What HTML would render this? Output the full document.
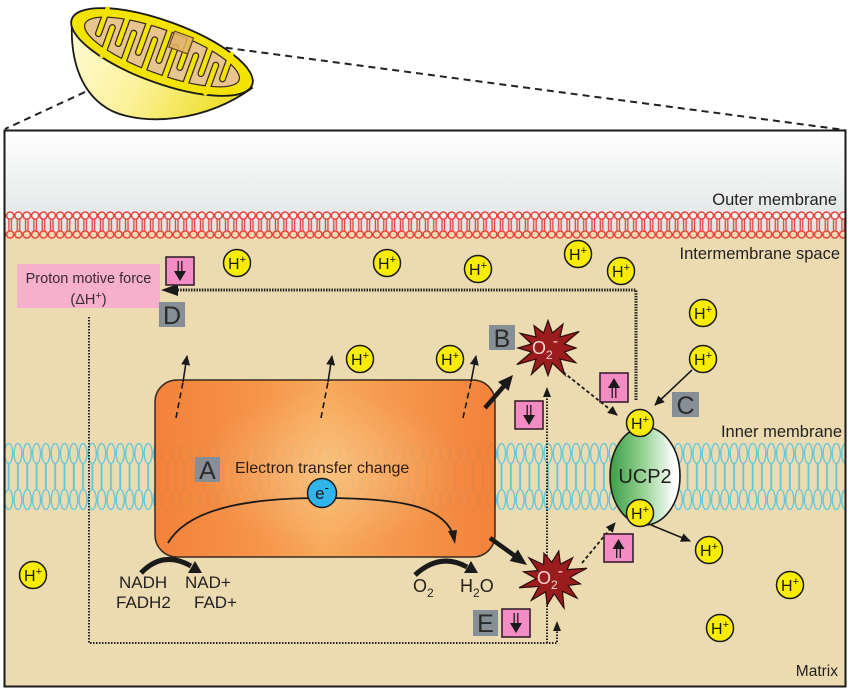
<!DOCTYPE html>
<html><head><meta charset="utf-8">
<style>
html,body{margin:0;padding:0;background:#fff;}
svg{display:block;}
text{font-family:"Liberation Sans",Arial,sans-serif;}
</style></head>
<body>
<svg width="850" height="691" viewBox="0 0 850 691" xmlns="http://www.w3.org/2000/svg">
<defs>
  <linearGradient id="topg" x1="0" y1="0" x2="0" y2="1">
    <stop offset="0" stop-color="#ffffff"/>
    <stop offset="1" stop-color="#e0e4e4"/>
  </linearGradient>
  <linearGradient id="org" x1="0" y1="0" x2="1" y2="0">
    <stop offset="0" stop-color="#f47a30"/>
    <stop offset="0.3" stop-color="#f68e40"/>
    <stop offset="0.5" stop-color="#f8a655"/>
    <stop offset="0.68" stop-color="#f69446"/>
    <stop offset="1" stop-color="#f47a30"/>
  </linearGradient>
  <radialGradient id="orr" cx="0.5" cy="0.5" r="0.5">
    <stop offset="0" stop-color="#fff2c0" stop-opacity="0.35"/>
    <stop offset="1" stop-color="#fff2c0" stop-opacity="0"/>
  </radialGradient>
  <linearGradient id="ucp" x1="0" y1="0" x2="1" y2="0">
    <stop offset="0" stop-color="#3c9c46"/>
    <stop offset="0.45" stop-color="#90cf8e"/>
    <stop offset="0.92" stop-color="#ffffff"/>
  </linearGradient>
  <linearGradient id="bowl" x1="0" y1="0" x2="1" y2="0.3">
    <stop offset="0" stop-color="#fefbd8"/>
    <stop offset="0.5" stop-color="#fcf29c"/>
    <stop offset="1" stop-color="#efdf30"/>
  </linearGradient>
  <pattern id="omem" x="6" y="211" width="8.33" height="28" patternUnits="userSpaceOnUse">
    <line x1="2.9" y1="7" x2="2.9" y2="21" stroke="#e8403a" stroke-width="1.3"/>
    <line x1="5.4" y1="7" x2="5.4" y2="21" stroke="#e8403a" stroke-width="1.3"/>
    <circle cx="4.16" cy="4.6" r="3.6" fill="#f6f2f0" stroke="#e8403a" stroke-width="1.4"/>
    <circle cx="4.16" cy="23.5" r="3.6" fill="#f2dab0" stroke="#e8403a" stroke-width="1.4"/>
  </pattern>
  <pattern id="imem" x="4" y="443" width="9.3" height="68" patternUnits="userSpaceOnUse">
    <ellipse cx="4.65" cy="10.5" rx="4" ry="10" fill="none" stroke="#5cc6de" stroke-width="1.3"/>
    <line x1="4.65" y1="20.5" x2="4.65" y2="46.5" stroke="#5cc6de" stroke-width="1.8"/>
    <ellipse cx="4.65" cy="56.5" rx="4" ry="10" fill="none" stroke="#5cc6de" stroke-width="1.3"/>
  </pattern>
  <clipPath id="mclip"><ellipse cx="0" cy="0" rx="82" ry="22"/></clipPath>
  <marker id="ah" markerWidth="12" markerHeight="12" refX="9" refY="5" orient="auto" markerUnits="userSpaceOnUse">
    <path d="M0,0.5 L10,5 L0,9.5 Z" fill="#1a1a1a"/>
  </marker>
</defs>

<!-- dashed zoom lines -->
<line x1="190" y1="43" x2="845" y2="130" stroke="#222" stroke-width="2" stroke-dasharray="7 5"/>
<line x1="85" y1="92" x2="5" y2="129" stroke="#222" stroke-width="2" stroke-dasharray="7 5"/>

<!-- mitochondrion -->
<path d="M72,22 C70,62 82,96 112,111 C145,126 205,122 252,88 L200,40 Z" fill="url(#bowl)" stroke="#1a1a1a" stroke-width="1.8"/>
<g transform="translate(162,52) rotate(20)">
  <ellipse cx="0" cy="0" rx="96" ry="31" fill="#f3e400" stroke="#1a1a1a" stroke-width="1.8"/>
  <ellipse cx="0" cy="0" rx="82" ry="22" fill="#e8c48f" stroke="#3a2a1a" stroke-width="1.2"/>
  <g clip-path="url(#mclip)" stroke="#3a2a1a" stroke-width="7" stroke-linecap="round">
    <line x1="-66" y1="-30" x2="-66" y2="4.5"/>
    <line x1="-44" y1="-30" x2="-44" y2="7"/>
    <line x1="-22" y1="-30" x2="-22" y2="8.5"/>
    <line x1="0" y1="-30" x2="0" y2="9"/>
    <line x1="22" y1="-30" x2="22" y2="8.5"/>
    <line x1="44" y1="-30" x2="44" y2="7"/>
    <line x1="66" y1="-30" x2="66" y2="4.5"/>
    <line x1="-55" y1="30" x2="-55" y2="-6"/>
    <line x1="-33" y1="30" x2="-33" y2="-8"/>
    <line x1="-11" y1="30" x2="-11" y2="-9"/>
    <line x1="11" y1="30" x2="11" y2="-9"/>
    <line x1="33" y1="30" x2="33" y2="-8"/>
    <line x1="55" y1="30" x2="55" y2="-6"/>
  </g>
  <g stroke="#f3e400" stroke-width="4.5" stroke-linecap="round">
    <line x1="-66" y1="-22" x2="-66" y2="4.5"/>
    <line x1="-44" y1="-24" x2="-44" y2="7"/>
    <line x1="-22" y1="-26" x2="-22" y2="8.5"/>
    <line x1="0" y1="-26" x2="0" y2="9"/>
    <line x1="22" y1="-26" x2="22" y2="8.5"/>
    <line x1="44" y1="-24" x2="44" y2="7"/>
    <line x1="66" y1="-22" x2="66" y2="4.5"/>
    <line x1="-55" y1="24" x2="-55" y2="-6"/>
    <line x1="-33" y1="26" x2="-33" y2="-8"/>
    <line x1="-11" y1="26" x2="-11" y2="-9"/>
    <line x1="11" y1="26" x2="11" y2="-9"/>
    <line x1="33" y1="26" x2="33" y2="-8"/>
    <line x1="55" y1="24" x2="55" y2="-6"/>
  </g>
</g>
<rect x="171" y="34" width="20" height="17" transform="rotate(20 181 43)" fill="#e3b46a" fill-opacity="0.85" stroke="#6a4a2a" stroke-width="1.2"/>

<!-- main frame backgrounds -->
<rect x="4" y="130" width="842" height="557" fill="#ecdbb0"/>
<rect x="4" y="130" width="842" height="101" fill="url(#topg)"/>
<rect x="5" y="211" width="840" height="28" fill="url(#omem)"/>
<rect x="5" y="443" width="840" height="68" fill="url(#imem)"/>

<!-- labels -->
<text x="837" y="205" font-size="16.5" text-anchor="end" fill="#231f20">Outer membrane</text>
<text x="840" y="259" font-size="16.5" text-anchor="end" fill="#231f20">Intermembrane space</text>
<text x="842" y="437" font-size="16.5" text-anchor="end" fill="#231f20">Inner membrane</text>
<text x="838" y="676" font-size="15.5" text-anchor="end" fill="#231f20">Matrix</text>

<!-- orange complex -->
<rect x="155" y="380" width="340" height="177" rx="22" fill="url(#org)" fill-opacity="0.92" stroke="#3a2a20" stroke-width="1.5"/>
<rect x="200" y="390" width="260" height="160" fill="url(#orr)"/>

<!-- proton motive force -->
<rect x="17" y="264" width="143" height="44" fill="#f6b0cc"/>
<text x="88.5" y="283" font-size="14.5" text-anchor="middle" fill="#3a2a30">Proton motive force</text>
<text x="88.5" y="304" font-size="14.5" text-anchor="middle" fill="#3a2a30">(ΔH<tspan font-size="11" dy="-5">+</tspan><tspan dy="5">)</tspan></text>

<!-- dotted loops -->
<polyline points="636,400 636,290 176,290" fill="none" stroke="#222" stroke-width="3" stroke-dasharray="1.5 1.2"/>
<polygon points="161,290 178,284 178,296" fill="#1a1a1a"/>
<polyline points="89,317 89,643 557,643 557,630" fill="none" stroke="#222" stroke-width="2" stroke-dasharray="1.5 1.5"/>
<polygon points="557,621 553,631 561,631" fill="#1a1a1a"/>
<line x1="547" y1="643" x2="547" y2="396" stroke="#222" stroke-width="2" stroke-dasharray="1.5 1.5"/>
<polygon points="547,387 543,397 551,397" fill="#1a1a1a"/>

<!-- up arrows from complex -->
<g stroke="#1a1a1a" stroke-width="1.6" fill="none">
  <line x1="176" y1="418" x2="183" y2="382" stroke-dasharray="6 4"/>
  <line x1="183" y1="382" x2="187" y2="356" marker-end="url(#ah)"/>
  <line x1="321" y1="418" x2="328" y2="382" stroke-dasharray="6 4"/>
  <line x1="328" y1="382" x2="332" y2="356" marker-end="url(#ah)"/>
  <line x1="463" y1="418" x2="471" y2="382" stroke-dasharray="6 4"/>
  <line x1="471" y1="382" x2="476" y2="356" marker-end="url(#ah)"/>
</g>

<!-- electron arc -->
<path d="M168,543 C190,505 260,498 322,498 C400,498 440,506 452,532" fill="none" stroke="#1a1a1a" stroke-width="1.8"/>
<polygon points="455,544 448,531 457,530" fill="#1a1a1a"/>
<circle cx="322" cy="493" r="14.5" fill="#2fb4ec" stroke="#1a1a1a" stroke-width="1.5"/>
<text x="322" y="499" font-size="17" text-anchor="middle" fill="#1a1a1a">e<tspan font-size="13" dy="-7">-</tspan></text>

<text x="235" y="473" font-size="16" fill="#2e1c10">Electron transfer change</text>

<!-- NADH / O2 -->
<path d="M141,573 Q163,550 191,566" fill="none" stroke="#1a1a1a" stroke-width="5"/>
<polygon points="202,573 188,573 195,561" fill="#1a1a1a"/>
<text x="119" y="588" font-size="17" fill="#231f20">NADH</text>
<text x="185" y="588" font-size="17" fill="#231f20">NAD+</text>
<text x="116" y="608" font-size="17" fill="#231f20">FADH2</text>
<text x="194" y="608" font-size="17" fill="#231f20">FAD+</text>
<path d="M415,575 Q440,552 467,567" fill="none" stroke="#1a1a1a" stroke-width="5"/>
<polygon points="478,573 464,573 471,561" fill="#1a1a1a"/>
<text x="413" y="592" font-size="18" fill="#231f20">O<tspan font-size="12" dy="5">2</tspan></text>
<text x="460" y="592" font-size="18" fill="#231f20">H<tspan font-size="12" dy="5">2</tspan><tspan dy="-5">O</tspan></text>

<!-- bold arrows -->
<line x1="485" y1="408" x2="504" y2="386" stroke="#1a1a1a" stroke-width="4.5"/>
<polygon points="513,375 508.6,390.9 498,381.9" fill="#1a1a1a"/>
<line x1="490" y1="538" x2="515" y2="556" stroke="#1a1a1a" stroke-width="4.5"/>
<polygon points="527,565 509.7,561 517.9,549.5" fill="#1a1a1a"/>

<!-- stars -->
<polygon transform="translate(548,348)" points="0,-27.6 4.4,-15.1 15,-23.9 12,-11.1 31.2,-16.6 16.4,-4.1 28,0 16.4,4.1 27.7,14.7 12,11.1 17,27.1 4.4,15.1 0,27.6 -4.4,15.1 -16.5,26.3 -12,11.1 -31.2,16.6 -16.4,4.1 -30,0 -16.4,-4.1 -27.7,-14.7 -12,-11.1 -14,-22.3 -4.4,-15.1" fill="#9a1c1c" stroke="#2a0a0a" stroke-width="1.2"/>
<text x="545" y="354" font-size="18" text-anchor="middle" fill="#f5d3d3">O<tspan font-size="12" dy="5">2</tspan><tspan font-size="16" dy="-13">-</tspan></text>
<polygon transform="translate(553,578) rotate(12)" points="0,-27.6 4.4,-15.1 15,-23.9 12,-11.1 31.2,-16.6 16.4,-4.1 28,0 16.4,4.1 27.7,14.7 12,11.1 17,27.1 4.4,15.1 0,27.6 -4.4,15.1 -16.5,26.3 -12,11.1 -31.2,16.6 -16.4,4.1 -30,0 -16.4,-4.1 -27.7,-14.7 -12,-11.1 -14,-22.3 -4.4,-15.1" fill="#9a1c1c" stroke="#2a0a0a" stroke-width="1.2"/>
<text x="550" y="584" font-size="18" text-anchor="middle" fill="#f5d3d3">O<tspan font-size="12" dy="5">2</tspan><tspan font-size="16" dy="-13">-</tspan></text>

<!-- dashed arrows to UCP2 -->
<line x1="563" y1="372" x2="617" y2="415" stroke="#1a1a1a" stroke-width="1.8" stroke-dasharray="3.5 2.5" marker-end="url(#ah)"/>
<line x1="582" y1="563" x2="615" y2="523" stroke="#1a1a1a" stroke-width="1.8" stroke-dasharray="3.5 2.5" marker-end="url(#ah)"/>

<!-- UCP2 -->
<ellipse cx="645" cy="476" rx="35" ry="49" fill="url(#ucp)" stroke="#1a1a1a" stroke-width="1.6"/>
<text x="645" y="483" font-size="20" text-anchor="middle" fill="#1e1e1e">UCP2</text>
<line x1="692" y1="370" x2="655" y2="405" stroke="#1a1a1a" stroke-width="1.6" marker-end="url(#ah)"/>
<line x1="651" y1="525" x2="690" y2="541" stroke="#1a1a1a" stroke-width="1.6" marker-end="url(#ah)"/>

<!-- H+ ions -->
<g stroke="#1a1a1a" stroke-width="1.5" fill="#f8ec00">
  <circle cx="237" cy="263" r="13.5"/>
  <circle cx="387" cy="263" r="13.5"/>
  <circle cx="478" cy="269" r="13.5"/>
  <circle cx="578" cy="254" r="13.5"/>
  <circle cx="621" cy="271" r="13.5"/>
  <circle cx="703" cy="313" r="13.5"/>
  <circle cx="703" cy="359" r="13.5"/>
  <circle cx="360" cy="359" r="13.5"/>
  <circle cx="450" cy="359" r="13.5"/>
  <circle cx="640" cy="423" r="13.5"/>
  <circle cx="640" cy="513" r="13.5"/>
  <circle cx="709" cy="550" r="13.5"/>
  <circle cx="790" cy="585" r="13.5"/>
  <circle cx="720" cy="628" r="13.5"/>
  <circle cx="33" cy="575" r="13.5"/>
</g>
<g font-size="16" text-anchor="middle" fill="#1a1a1a">
  <text x="237" y="269">H<tspan font-size="11" dy="-6">+</tspan></text>
  <text x="387" y="269">H<tspan font-size="11" dy="-6">+</tspan></text>
  <text x="478" y="275">H<tspan font-size="11" dy="-6">+</tspan></text>
  <text x="578" y="260">H<tspan font-size="11" dy="-6">+</tspan></text>
  <text x="621" y="277">H<tspan font-size="11" dy="-6">+</tspan></text>
  <text x="703" y="319">H<tspan font-size="11" dy="-6">+</tspan></text>
  <text x="703" y="365">H<tspan font-size="11" dy="-6">+</tspan></text>
  <text x="360" y="365">H<tspan font-size="11" dy="-6">+</tspan></text>
  <text x="450" y="365">H<tspan font-size="11" dy="-6">+</tspan></text>
  <text x="640" y="429">H<tspan font-size="11" dy="-6">+</tspan></text>
  <text x="640" y="519">H<tspan font-size="11" dy="-6">+</tspan></text>
  <text x="709" y="556">H<tspan font-size="11" dy="-6">+</tspan></text>
  <text x="790" y="591">H<tspan font-size="11" dy="-6">+</tspan></text>
  <text x="720" y="634">H<tspan font-size="11" dy="-6">+</tspan></text>
  <text x="33" y="581">H<tspan font-size="11" dy="-6">+</tspan></text>
</g>

<!-- pink indicator boxes -->
<g stroke="#3a2030" stroke-width="1.6" fill="#f28cc2">
  <rect x="166" y="257" width="28" height="28"/>
  <rect x="515" y="401" width="28" height="28"/>
  <rect x="600" y="373" width="28" height="29"/>
  <rect x="604" y="534" width="29" height="28"/>
  <rect x="502" y="609" width="28" height="28"/>
</g>
<g stroke="#1a1a1a" stroke-width="1.3" fill="#1a1a1a">
  <line x1="178.2" y1="261" x2="178.2" y2="272"/><line x1="181.8" y1="261" x2="181.8" y2="272"/>
  <polygon points="174,271 186,271 180,281" stroke="none"/>
  <line x1="527.2" y1="405" x2="527.2" y2="416"/><line x1="530.8" y1="405" x2="530.8" y2="416"/>
  <polygon points="523,415 535,415 529,425" stroke="none"/>
  <polygon points="608,388 620,388 614,378" stroke="none"/>
  <line x1="612.2" y1="387" x2="612.2" y2="398"/><line x1="615.8" y1="387" x2="615.8" y2="398"/>
  <polygon points="612.5,549 624.5,549 618.5,539" stroke="none"/>
  <line x1="616.7" y1="548" x2="616.7" y2="558"/><line x1="620.3" y1="548" x2="620.3" y2="558"/>
  <line x1="514.2" y1="613" x2="514.2" y2="624"/><line x1="517.8" y1="613" x2="517.8" y2="624"/>
  <polygon points="510,623 522,623 516,633" stroke="none"/>
</g>

<!-- grey letter boxes -->
<g fill="#868f95">
  <rect x="195" y="457" width="25" height="25"/>
  <rect x="489" y="325" width="26" height="25"/>
  <rect x="672" y="392" width="27" height="25"/>
  <rect x="159" y="302" width="26" height="25"/>
  <rect x="473" y="610" width="25" height="26"/>
</g>
<g font-size="25" text-anchor="middle" fill="#2a2a2a">
  <text x="207.5" y="479">A</text>
  <text x="502" y="347">B</text>
  <text x="685.5" y="414">C</text>
  <text x="172" y="324">D</text>
  <text x="485.5" y="632">E</text>
</g>

<!-- frame -->
<rect x="4.5" y="130.5" width="841" height="556" fill="none" stroke="#1a1a1a" stroke-width="2"/>
</svg>
</body></html>
